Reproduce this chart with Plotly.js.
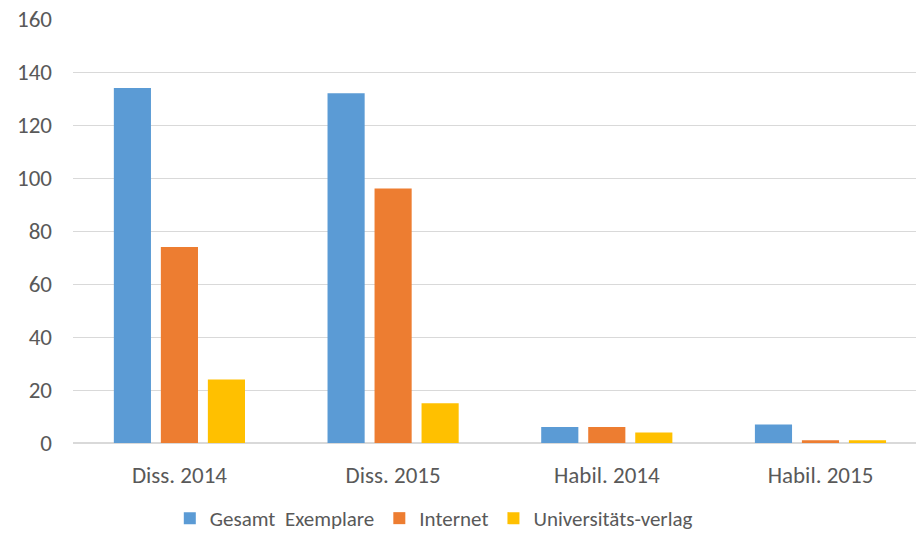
<!DOCTYPE html>
<html>
<head>
<meta charset="utf-8">
<script src="https://cdn.plot.ly/plotly-3.0.1.min.js"></script>
<style>html,body{margin:0;padding:0;background:#fff;}#chart{width:916px;height:539px;}</style>
</head>
<body>
<div id="chart"></div>
<script>
var categories = ["Diss. 2014", "Diss. 2015", "Habil. 2014", "Habil. 2015"];
var gesamt = [134, 132, 6, 7];
var internet = [74, 96, 6, 1];
var verlag = [24, 15, 4, 1];
var seriesNames = ["Gesamt\u00a0 Exemplare", "Internet", "Universitäts-verlag"];
var colors = ["#5b9bd5", "#ed7d31", "#ffc000"];
var yTicks = [0, 20, 40, 60, 80, 100, 120, 140, 160];

var font = {family: "Carlito, 'Liberation Sans', Arial, sans-serif", size: 23, color: "#595959"};
var legendFont = {family: "Carlito, 'Liberation Sans', Arial, sans-serif", size: 21, color: "#595959"};
var data = [gesamt, internet, verlag].map(function(v, i){
  return {type: "bar", x: categories, y: v, name: seriesNames[i],
          marker: {color: colors[i], line: {width: 0}}};
});
var layout = {
  width: 916, height: 539,
  margin: {l: 73, r: 0, t: 19, b: 0},
  paper_bgcolor: "#fff", plot_bgcolor: "#fff",
  font: font,
  barmode: "group", bargap: 0.34, bargroupgap: 0.21,
  showlegend: true,
  legend: {orientation: "h", x: 0.428, xanchor: "center", y: 0, yanchor: "bottom",
           font: legendFont, itemwidth: 30, tracegroupgap: 0},
  xaxis: {type: "category", range: [-0.498, 3.447], showgrid: false, zeroline: false, showline: false,
          ticks: "", tickfont: font, ticklabelstandoff: 16},
  yaxis: {domain: [0.1846, 1], range: [0, 160], tickvals: yTicks, showgrid: true, gridcolor: "#d9d9d9",
          gridwidth: 1, zeroline: true, zerolinecolor: "#d9d9d9", zerolinewidth: 1.5,
          showline: false, ticks: "", tickfont: font, ticklabelstandoff: 20}
};
Plotly.newPlot("chart", data, layout, {displayModeBar: false, staticPlot: true});
</script>
</body>
</html>
